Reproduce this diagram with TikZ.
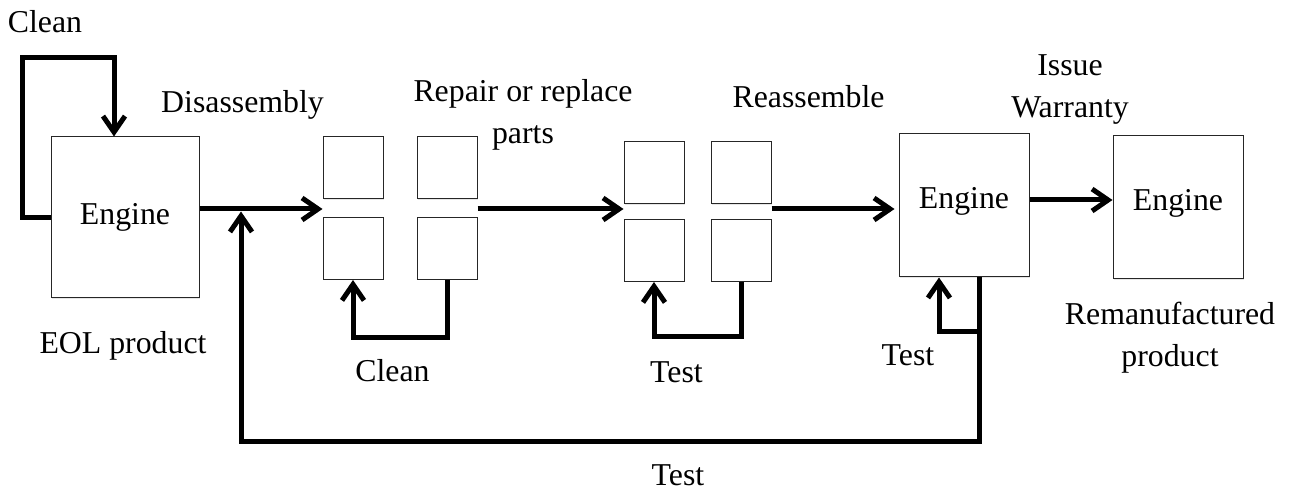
\documentclass[tikz,border=0pt]{standalone}
\usepackage{fontspec}
\setmainfont{Liberation Serif}
\usetikzlibrary{arrows.meta,shadows}

\begin{document}
\begin{tikzpicture}[x=0.5pt,y=-0.5pt,
      every node/.style={font=\fontsize{15.9}{21}\selectfont},
      box/.style={draw=black!85,line width=0.5pt,fill=white,inner sep=0pt,drop shadow={shadow xshift=0.5pt,shadow yshift=-0.5pt,opacity=0.2}},
      engine/.style={box,minimum width=65pt,minimum height=71.5pt,text depth=8pt},
      part/.style={box,minimum width=30pt,minimum height=31pt},
      flow/.style={line width=2.5pt,-{Straight Barb[length=8pt,width=11pt]}},
      lbl/.style={anchor=base,inner sep=0pt},
      lbltwo/.style={align=center,inner sep=0pt}]
      \useasboundingbox (0,0) rectangle (1290,491);

      \node[box,minimum width=74pt,minimum height=80.5pt] (eol) at (125,217.5) {Engine};
      \node[part] (d1) at (353,168) {}; \node[part] (d2) at (447,168) {}; \node[part] (d3) at (353,248.5) {}; \node[part] (d4) at (447,248.5) {};
      \node[part] (r1) at (654,173) {}; \node[part] (r2) at (741,173) {}; \node[part] (r3) at (654,250.5) {}; \node[part] (r4) at (741,250.5) {};
      \node[engine] (tested) at (964,205.5) {Engine};
      \node[engine] (reman) at (1178,207.5) {Engine};

      \node[lbl] (cleanlbl) at (45,33) {Clean}; \node[lbl] (dislbl) at (242.5,113) {Disassembly}; \node[lbltwo] (replbl) at (523,115) {Repair or replace\\parts}; \node[lbl] (reaslbl) at (808.5,108) {Reassemble}; \node[lbltwo] (warlbl) at (1070,90) {Issue\\Warranty};
      \node[lbl] (eollbl) at (123,354) {EOL product}; \node[lbl] (cleanpartslbl) at (392.5,382) {Clean}; \node[lbl] (testpartslbl) at (676.5,383) {Test}; \node[lbl] (testenginelbl) at (908,366) {Test}; \node[lbltwo] (remlbl) at (1170,338) {Remanufactured\\product}; \node[lbl] (testbacklbl) at (678,485) {Test};

      \coordinate (top) at (22,58); \coordinate (split) at (241,209); \coordinate (cleanb) at (353,338); \coordinate (testb) at (654,337); \coordinate (fork) at (979,332); \coordinate (back) at (241,442);
      \coordinate (warr) at ([yshift=2.75pt]tested.east);

      \draw[flow] (eol.west) -| (top) -| ([xshift=-5.5pt]eol.north);
      \draw[flow] (eol.east |- split) -- (split -| d1.west); \draw[flow] (d2.east |- split) -- (r1.west |- split); \draw[flow] (r2.east |- split) -- ([xshift=-2pt]tested.west |- split); \draw[flow] (warr) -- (warr -| reman.west);
      \draw[flow] (d4.south) |- (cleanb) -- (d3.south); \draw[flow] (r4.south) |- (testb) -- (r3.south);
      \draw[flow] ([xshift=7.5pt]tested.south) -- (fork) -| ([xshift=-12.5pt]tested.south);
      \draw[flow,shorten >=1.25pt] (fork) |- (back) -- (split);
    \end{tikzpicture}
\end{document}
